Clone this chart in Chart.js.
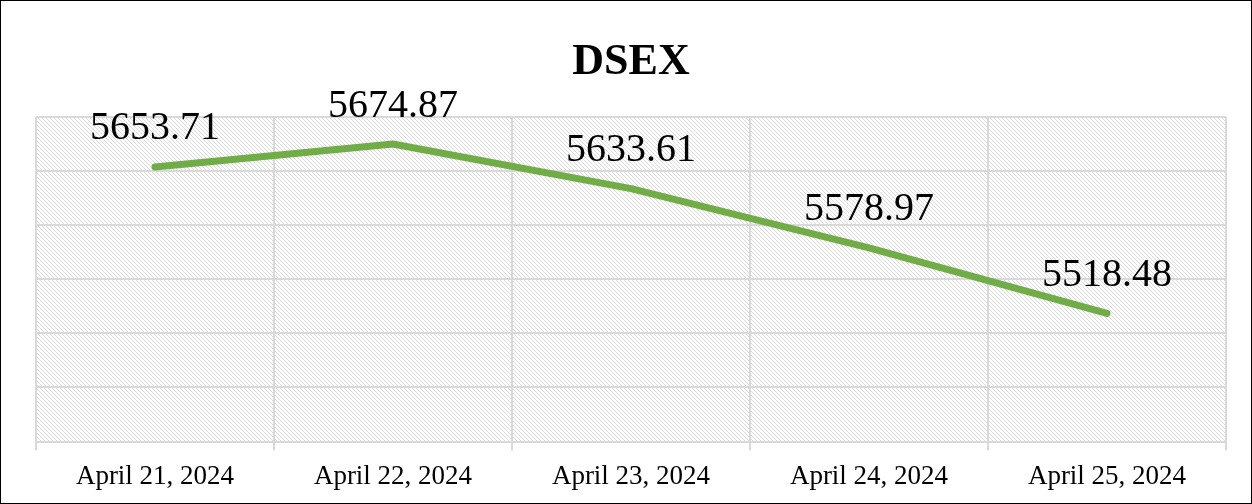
<!DOCTYPE html>
<html lang="en">
<head>
  <meta charset="UTF-8" />
  <title>DSEX</title>
  <script src="https://cdn.jsdelivr.net/npm/chart.js"></script>
  <style>
    html, body { margin: 0; padding: 0; background: #fff; }
    .frame {
      width: 1252px;
      height: 504px;
      box-sizing: border-box;
      border: 1px solid #000;
      position: relative;
    }
    canvas { display: block; }
  </style>
</head>
<body>
  <div class="frame">
    <canvas id="dsexChart" width="1250" height="502"></canvas>
  </div>

<script>
  const dates = ['April 21, 2024', 'April 22, 2024', 'April 23, 2024', 'April 24, 2024', 'April 25, 2024'];
  const dsexValues = [5653.71, 5674.87, 5633.61, 5578.97, 5518.48];
  const yMin = 5400;
  const yMax = 5700;
  const yStep = 50;

  const serif = "'Liberation Serif', 'DejaVu Serif', serif";

  // light diagonal hatch for the plot area
  function makeHatch(ctx) {
    const tile = document.createElement('canvas');
    tile.width = 4;
    tile.height = 4;
    const t = tile.getContext('2d');
    t.fillStyle = '#ffffff';
    t.fillRect(0, 0, 4, 4);
    t.fillStyle = '#dadada';
    for (let i = 0; i < 4; i++) t.fillRect(i, i, 1, 1);
    return ctx.createPattern(tile, 'repeat');
  }

  const hatchBackground = {
    id: 'hatchBackground',
    beforeDraw(chart) {
      const { ctx, chartArea: a } = chart;
      ctx.save();
      ctx.fillStyle = makeHatch(ctx);
      ctx.fillRect(a.left, a.top, a.right - a.left, a.bottom - a.top);
      ctx.restore();
    }
  };

  const valueLabels = {
    id: 'valueLabels',
    afterDatasetsDraw(chart) {
      const { ctx } = chart;
      const meta = chart.getDatasetMeta(0);
      ctx.save();
      ctx.font = '40px ' + serif;
      ctx.fillStyle = '#000';
      ctx.textAlign = 'center';
      ctx.textBaseline = 'middle';
      meta.data.forEach((pt, i) => {
        ctx.fillText(dsexValues[i].toFixed(2), pt.x, pt.y - 38);
      });
      ctx.restore();
    }
  };

  const ctx = document.getElementById('dsexChart').getContext('2d');
  new Chart(ctx, {
    type: 'line',
    data: {
      labels: dates,
      datasets: [{
        data: dsexValues,
        borderColor: '#70ad47',
        borderWidth: 7,
        borderCapStyle: 'round',
        borderJoinStyle: 'round',
        pointRadius: 0,
        tension: 0,
        fill: false
      }]
    },
    options: {
      responsive: false,
      animation: false,
      layout: { padding: { left: 35, right: 25, top: 6, bottom: 0 } },
      plugins: {
        legend: { display: false },
        tooltip: { enabled: false },
        title: {
          display: true,
          text: 'DSEX',
          color: '#000',
          font: { family: serif, size: 44, weight: 'bold' },
          padding: { top: 29, bottom: 28 }
        }
      },
      scales: {
        x: {
          offset: true,
          grid: { color: '#d9d9d9', lineWidth: 2, offset: true, tickLength: 9 },
          border: { display: false },
          ticks: { color: '#000', font: { family: serif, size: 27 }, padding: 10 }
        },
        y: {
          min: yMin,
          max: yMax,
          ticks: { stepSize: yStep, display: false },
          grid: { color: '#d9d9d9', lineWidth: 2, drawTicks: false },
          border: { display: false }
        }
      }
    },
    plugins: [hatchBackground, valueLabels]
  });
</script>
</body>
</html>
